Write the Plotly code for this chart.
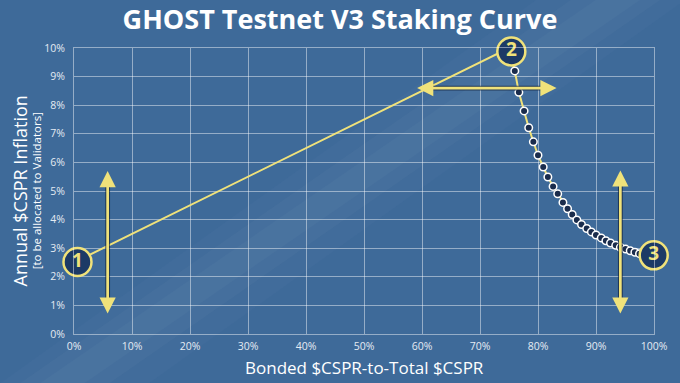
import plotly.graph_objects as go

# ---- data ----
linear_x = [0, 75]
linear_y = [2.5, 10.0]
curve_x = [76.0, 76.7, 77.6, 78.4, 79.2, 80.0, 80.9, 81.7, 82.6, 83.4, 84.3, 85.1, 85.9, 86.7,
           87.5, 88.4, 89.2, 90.0, 90.9, 91.7, 92.5, 93.4, 94.2, 95.1, 95.9, 96.7, 97.5]
curve_y = [9.2, 8.45, 7.8, 7.21, 6.72, 6.25, 5.84, 5.49, 5.16, 4.90, 4.60, 4.38, 4.18, 3.99,
           3.83, 3.69, 3.57, 3.46, 3.36, 3.26, 3.18, 3.10, 3.03, 2.97, 2.91, 2.86, 2.81]
end_x = [99.9]
end_y = [2.75]
badge_labels = ["1", "2", "3"]
badge_x = [0.6, 75.4, 99.95]
badge_y = [2.52, 9.88, 2.75]
# arrows: (x_start, y_start, x_end, y_end)
arrows = [(5.8, 0.66, 5.8, 5.7), (58.9, 8.6, 83.2, 8.6), (94.2, 0.66, 94.2, 5.72)]
x_ticks = list(range(0, 101, 10))
y_ticks = list(range(0, 11, 1))

BG = "#3e6a99"
YEL = "#f0e27a"
NAVY = "#1c3a66"
GRID = "rgba(255,255,255,0.45)"
FONT = "Open Sans"

fig = go.Figure()

line_x = linear_x + curve_x + end_x
line_y = linear_y + curve_y + end_y
fig.add_trace(go.Scatter(x=line_x, y=line_y, mode="lines",
                         line=dict(color=YEL, width=2), hoverinfo="skip", cliponaxis=False))
fig.add_trace(go.Scatter(x=curve_x, y=curve_y, mode="markers",
                         marker=dict(size=7.5, color="#1a2c4c", line=dict(color="white", width=1.5)),
                         cliponaxis=False))
fig.add_trace(go.Scatter(x=badge_x, y=badge_y, mode="markers+text", text=badge_labels,
                         textposition="middle center",
                         textfont=dict(family=FONT, size=19, color=YEL, weight="bold"),
                         marker=dict(size=28, color=NAVY, line=dict(color=YEL, width=2.5)),
                         cliponaxis=False))

# arrows: dark shaft outline (no heads) then yellow double-headed arrow
for (x0, y0, x1, y1) in arrows:
    fig.add_annotation(x=x1, y=y1, ax=x0, ay=y0, xref="x", yref="y", axref="x", ayref="y",
                       text="", showarrow=True, arrowhead=0, startarrowhead=0,
                       arrowside="end+start", arrowwidth=4.8, arrowcolor="rgba(20,35,60,0.7)",
                       standoff=12, startstandoff=12)
    fig.add_annotation(x=x1, y=y1, ax=x0, ay=y0, xref="x", yref="y", axref="x", ayref="y",
                       text="", showarrow=True, arrowhead=2, startarrowhead=2,
                       arrowside="end+start", arrowsize=1.2, startarrowsize=1.2,
                       arrowwidth=2.7, arrowcolor=YEL, standoff=0, startstandoff=0)

# background light band
band_shapes = [
    ("M 540 0 L 690 0 L 150 383 L 0 383 Z", 0.025),
    ("M 575 0 L 665 0 L 110 383 L 20 383 Z", 0.03),
    ("M 600 0 L 645 0 L 85 383 L 40 383 Z", 0.035),
]
W, H = 680, 383
L, R, T, B = 74, 21, 48, 49
pw, ph = W - L - R, H - T - B

def to_paper(path):
    toks = path.split()
    out = []
    i = 0
    while i < len(toks):
        t = toks[i]
        if t in ("M", "L"):
            px, py = float(toks[i + 1]), float(toks[i + 2])
            out.append(f"{t} {(px - L) / pw:.4f} {(H - B - py) / ph:.4f}")
            i += 3
        else:
            out.append(t)
            i += 1
    return " ".join(out)

for p, op in band_shapes:
    fig.add_shape(type="path", path=to_paper(p), xref="paper", yref="paper",
                  fillcolor=f"rgba(210,225,235,{op})", line=dict(width=0), layer="below")

# titles
fig.add_annotation(text="Bonded $CSPR-to-Total $CSPR", xref="paper", yref="paper",
                   x=0.5, y=(H - B - 367) / ph, showarrow=False,
                   font=dict(family=FONT, size=17, color="white"), xanchor="center", yanchor="middle")
fig.add_annotation(text="Annual $CSPR Inflation", xref="paper", yref="paper",
                   x=(20 - L) / pw, y=0.5, showarrow=False, textangle=-90,
                   font=dict(family=FONT, size=18, color="white"), xanchor="center", yanchor="middle")
fig.add_annotation(text="[to be allocated to Validators]", xref="paper", yref="paper",
                   x=(36 - L) / pw, y=0.5, showarrow=False, textangle=-90,
                   font=dict(family=FONT, size=11.5, color="white"), xanchor="center", yanchor="middle")

fig.update_layout(
    width=W, height=H,
    margin=dict(l=L, r=R, t=T, b=B),
    paper_bgcolor=BG, plot_bgcolor="rgba(0,0,0,0)",
    showlegend=False,
    title=dict(text="GHOST Testnet V3 Staking Curve", x=0.5, xanchor="center",
               y=1 - 20 / H, yanchor="middle", yref="container",
               font=dict(family=FONT, size=27, color="white", weight="bold")),
    xaxis=dict(range=[0, 100], tickvals=x_ticks, ticktext=[f"{v}%" for v in x_ticks],
               showgrid=True, gridcolor=GRID, gridwidth=1, zeroline=False,
               showline=True, mirror=True, linecolor=GRID, linewidth=1,
               tickfont=dict(family=FONT, size=10.5, color="#e4ebf3"), ticks="",
               ticklabelstandoff=2, fixedrange=True),
    yaxis=dict(range=[0, 10], tickvals=y_ticks, ticktext=[f"{v}%" for v in y_ticks],
               showgrid=True, gridcolor=GRID, gridwidth=1, zeroline=False,
               showline=True, mirror=True, linecolor=GRID, linewidth=1,
               tickfont=dict(family=FONT, size=10.5, color="#e4ebf3"), ticks="",
               ticklabelstandoff=6, fixedrange=True),
)

fig.write_html("out.html")
